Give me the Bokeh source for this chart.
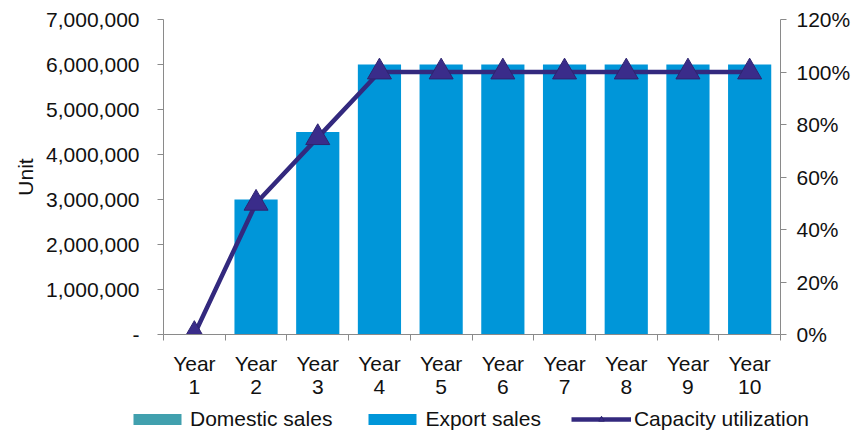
from bokeh.plotting import figure
from bokeh.layouts import column
from bokeh.models import (Range1d, LinearAxis, FixedTicker, NumeralTickFormatter,
                          Legend, LegendItem, ColumnDataSource)
from bokeh.embed import file_html
from bokeh.resources import INLINE

years = ["Year\n1", "Year\n2", "Year\n3", "Year\n4", "Year\n5",
         "Year\n6", "Year\n7", "Year\n8", "Year\n9", "Year\n10"]
domestic_sales = [0, 0, 0, 0, 0, 0, 0, 0, 0, 0]
export_sales = [0, 3000000, 4500000, 6000000, 6000000, 6000000, 6000000, 6000000, 6000000, 6000000]
capacity_utilization = [0.0, 0.5, 0.75, 1.0, 1.0, 1.0, 1.0, 1.0, 1.0, 1.0]
series_names = ["Domestic sales", "Export sales", "Capacity utilization"]

xs = list(range(1, len(years) + 1))
src = ColumnDataSource(dict(x=xs, dom=domestic_sales, exp=export_sales,
                            exp_top=[d + e for d, e in zip(domestic_sales, export_sales)],
                            cap=capacity_utilization))

FONT = "Liberation Sans"
FS = "21px"
BLUE = "#0096D9"
TEAL = "#41A0AE"
PURPLE = "#33297E"
MARK_FILL = "#3A2C8A"
MARK_LINE = "#2E2470"

W = 854
p = figure(width=W, height=400, output_backend="svg", toolbar_location=None,
           x_range=Range1d(0.5, len(years) + 0.5), y_range=Range1d(0, 7000000),
           min_border_left=163, min_border_right=74, min_border_top=19, min_border_bottom=63)
p.outline_line_color = None
p.grid.visible = False
p.background_fill_color = "white"
p.border_fill_color = "white"
p.extra_y_ranges = {"pct": Range1d(0, 1.2)}

p.vbar(x="x", bottom=0, top="dom", width=0.7, source=src, fill_color=TEAL, line_color=None)
p.vbar(x="x", bottom="dom", top="exp_top", width=0.7, source=src, fill_color=BLUE, line_color=None)
p.line(x="x", y="cap", source=src, y_range_name="pct", line_color=PURPLE, line_width=4.5)
p.scatter(x="x", y="cap", source=src, y_range_name="pct", marker="triangle", size=24,
          fill_color=MARK_FILL, line_color=MARK_LINE, line_width=1)

def style(ax):
    ax.axis_line_color = "#8a8a8a"
    ax.major_tick_line_color = "#8a8a8a"
    ax.minor_tick_line_color = "#8a8a8a"
    ax.major_label_text_font = FONT
    ax.major_label_text_font_size = FS
    ax.major_label_text_color = "#111111"
    ax.axis_label_text_font = FONT
    ax.axis_label_text_font_size = FS
    ax.axis_label_text_font_style = "normal"
    ax.axis_label_text_color = "#111111"

# x axis
xa = p.xaxis[0]
xa.ticker = FixedTicker(ticks=xs, minor_ticks=[i + 0.5 for i in range(0, len(years) + 1)])
xa.major_label_overrides = {x: lab for x, lab in zip(xs, years)}
xa.major_tick_in = 0
xa.major_tick_out = 0
xa.minor_tick_in = 0
xa.minor_tick_out = 6
xa.major_label_standoff = 11
style(xa)
xa.major_label_text_line_height = 1.0

# left axis
ya = p.yaxis[0]
ya.ticker = FixedTicker(ticks=[i * 1000000 for i in range(8)], minor_ticks=[])
ya.formatter = NumeralTickFormatter(format="0,0")
ya.major_label_overrides = {0: "-"}
ya.major_tick_in = 0
ya.major_tick_out = 6
ya.minor_tick_in = 0
ya.minor_tick_out = 0
ya.axis_label = "Unit"
ya.axis_label_standoff = 6
ya.major_label_standoff = 18
style(ya)

# right axis
ra = LinearAxis(y_range_name="pct", ticker=FixedTicker(ticks=[0, 0.2, 0.4, 0.6, 0.8, 1.0, 1.2], minor_ticks=[]),
                formatter=NumeralTickFormatter(format="0%"))
ra.major_tick_in = 0
ra.major_tick_out = 6
ra.minor_tick_in = 0
ra.minor_tick_out = 0
ra.major_label_standoff = 10
style(ra)
p.add_layout(ra, "right")

# legend strip (separate small figure underneath, full-width frame)
lg = figure(width=W, height=32, output_backend="svg", toolbar_location=None,
            x_range=Range1d(0, 1), y_range=Range1d(0, 1),
            min_border_left=0, min_border_right=0, min_border_top=0, min_border_bottom=0)
lg.frame_align = False
lg.axis.visible = False
lg.grid.visible = False
lg.outline_line_color = None
l_dom = lg.vbar(x=[-10], top=[-10], width=0.1, fill_color=TEAL, line_color=None)
l_exp = lg.vbar(x=[-10], top=[-10], width=0.1, fill_color=BLUE, line_color=None)
l_line = lg.line(x=[-10, -11], y=[-10, -11], line_color=PURPLE, line_width=4.5)
l_mark = lg.scatter(x=[-10], y=[-10], marker="triangle", fill_color=MARK_FILL, line_color=MARK_LINE)

legend = Legend(items=[
    LegendItem(label=series_names[0], renderers=[l_dom]),
    LegendItem(label=series_names[1], renderers=[l_exp]),
    LegendItem(label=series_names[2], renderers=[l_line, l_mark]),
], orientation="horizontal", location=(127, 1))
legend.label_text_font = FONT
legend.label_text_font_size = FS
legend.label_text_color = "#111111"
legend.glyph_width = 60
legend.glyph_height = 14
legend.label_standoff = 3
legend.spacing = 30
legend.padding = 0
legend.margin = 0
legend.border_line_color = None
legend.background_fill_alpha = 0
lg.add_layout(legend, "center")

layout = column(p, lg, spacing=0)
open("out.html", "w").write(file_html(layout, INLINE))
